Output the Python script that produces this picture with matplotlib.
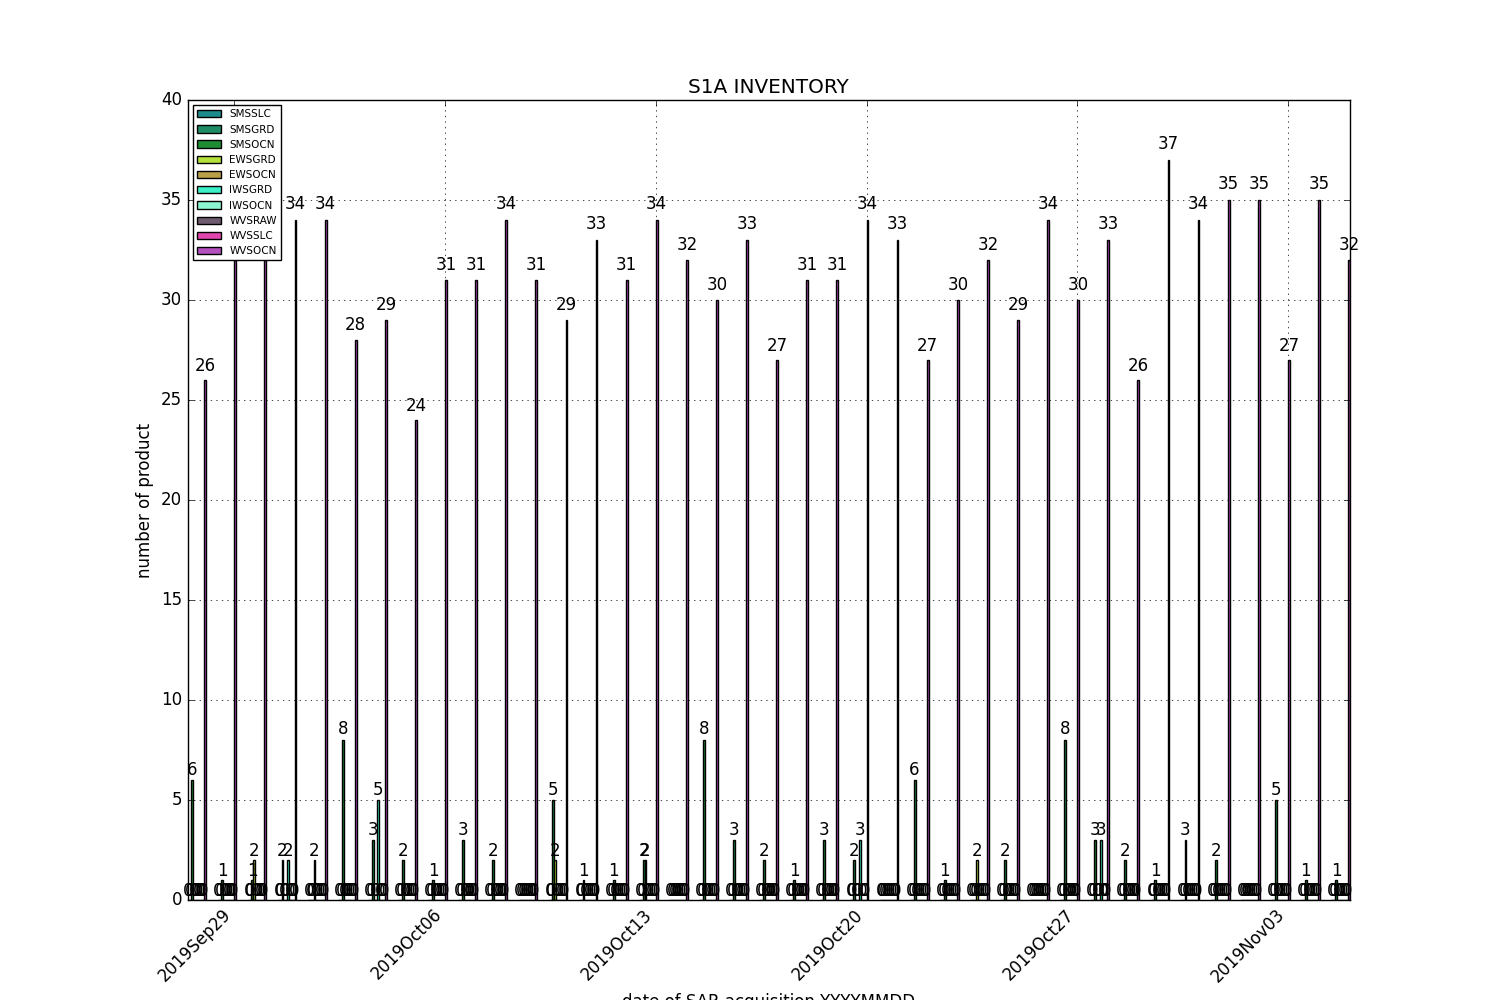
import pandas as pd
import matplotlib
matplotlib.use('Agg')
import matplotlib.pyplot as plt
import matplotlib.dates as mdates

plt.style.use('classic')

# acquisition days
days = pd.date_range('2019-09-28', '2019-11-05', freq='D')

products = ['SMSSLC', 'SMSGRD', 'SMSOCN', 'EWSGRD', 'EWSOCN',
            'IWSGRD', 'IWSOCN', 'WVSRAW', 'WVSSLC', 'WVSOCN']
colors = ['#1e8b8b', '#1e8c64', '#1e8c32', '#b4e13c', '#b9a046',
          '#3cf0c8', '#8cf5d2', '#6e5a6e', '#e146af', '#b450be']

zeros = [0] * 39
smsslc = zeros
smsgrd = zeros
smsocn = [6, 1, 1, 2, 0, 8, 3, 2, 1, 3, 2, 0, 5, 1, 1, 2, 0, 8, 3, 2,
          1, 3, 2, 0, 6, 1, 0, 2, 0, 8, 3, 2, 1, 3, 2, 0, 5, 1, 1]
ewsgrd = [0, 0, 2, 0, 2, 0, 0, 0, 0, 0, 0, 0, 2, 0, 0, 2, 0, 0, 0, 0,
          0, 0, 0, 0, 0, 0, 2, 0, 0, 0, 0, 0, 0, 0, 0, 0, 0, 0, 0]
ewsocn = zeros
iwsgrd = [0, 0, 0, 2, 0, 0, 5, 0, 0, 0, 0, 0, 0, 0, 0, 0, 0, 0, 0, 0,
          0, 0, 3, 0, 0, 0, 0, 0, 0, 0, 3, 0, 0, 0, 0, 0, 0, 0, 0]
iwsocn = zeros
wvsraw = zeros
wvsslc = zeros
wvsocn = [26, 32, 33, 34, 34, 28, 29, 24, 31, 31, 34, 31, 29, 33, 31, 34, 32, 30, 33, 27,
          31, 31, 34, 33, 27, 30, 32, 29, 34, 30, 33, 26, 37, 34, 35, 35, 27, 35, 32]

counts = [smsslc, smsgrd, smsocn, ewsgrd, ewsocn,
          iwsgrd, iwsocn, wvsraw, wvsslc, wvsocn]

width = 0.062  # in days
xdays = mdates.date2num(days.to_pydatetime())

fig = plt.figure(figsize=(15, 10), dpi=100)
ax = fig.add_subplot(111)

for i, (name, vals) in enumerate(zip(products, counts)):
    rects = ax.bar(xdays + (i - 9) * width, vals, width, align='edge',
                   color=colors[i], label=name)
    # value on top of each bar
    for rect in rects:
        h = rect.get_height()
        ax.text(rect.get_x() + rect.get_width() / 2., 1.01 * h, '%d' % int(h),
                ha='center', va='bottom', fontsize=12)

ax.set_xlim(xdays[0] - 9 * width, xdays[-1] + width)
ax.set_ylim(0, 40)
ax.xaxis.set_major_locator(mdates.WeekdayLocator(byweekday=mdates.SU))
ax.xaxis.set_major_formatter(mdates.DateFormatter('%Y%b%d'))
plt.setp(ax.get_xticklabels(), rotation=45, ha='right')

ax.grid(True)
ax.set_title('S1A INVENTORY')
ax.set_xlabel('date of SAR acquisition YYYYMMDD')
ax.set_ylabel('number of product')
ax.legend(loc='upper left', fontsize=7.5, handlelength=2.3)

fig.savefig('out.png', dpi=100)
